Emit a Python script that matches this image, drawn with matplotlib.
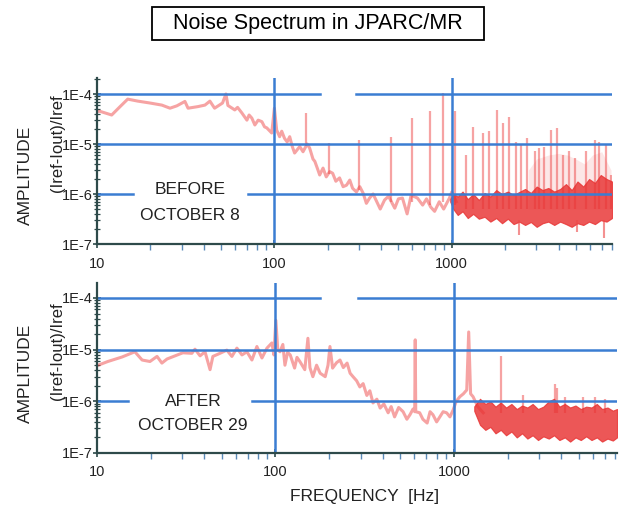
import matplotlib
matplotlib.use("Agg")
import matplotlib.pyplot as plt
from matplotlib.patches import Rectangle
from matplotlib.ticker import FixedLocator, LogLocator, NullFormatter

plt.rcParams['font.family'] = ['Liberation Sans', 'DejaVu Sans']

# ---------------- data ----------------
title = "Noise Spectrum in JPARC/MR"
y_ticks = [1e-7, 1e-6, 1e-5, 1e-4]
y_ticklabels = ["1E-7", "1E-6", "1E-5", "1E-4"]
x_ticks = [10, 100, 1000]
x_ticklabels = ["10", "100", "1000"]

# BEFORE panel: main trace
before_f = [10, 10.4, 12.1, 13.5, 14.9, 17, 19.9, 23.2, 25.8, 28.2, 31.3, 32.6, 37.1, 40.6, 43.3,
            46, 51, 53.3, 54.7, 59.8, 62, 65.5, 70, 72, 74.6, 77.6, 81, 85, 88, 90.6,
            96.6, 100, 103, 107, 110, 114, 118, 122, 126, 130, 139, 145, 153, 158, 165,
            169, 175, 180, 188, 196, 205, 213, 222, 233, 244, 255, 266, 276, 290, 303,
            316, 330, 344, 360, 377, 395, 418, 440, 477, 500, 527, 560, 590, 640, 685,
            720, 760, 800, 850, 900, 970, 1000, 1060]
before_a = [4.5e-5, 4.5e-5, 3.8e-5, 5.6e-5, 7.9e-5, 7.2e-5, 6.6e-5, 6.0e-5, 5.2e-5, 5.8e-5,
            7.1e-5, 5.2e-5, 5.6e-5, 6.0e-5, 7.2e-5, 5.2e-5, 6.6e-5, 1.0e-4, 5.9e-5, 4.8e-5,
            5.4e-5, 4.2e-5, 3.0e-5, 3.8e-5, 3.3e-5, 2.4e-5, 3.0e-5, 2.8e-5, 2.2e-5, 2.1e-5,
            1.66e-5, 5.2e-5, 1.9e-5, 1.4e-5, 1.8e-5, 1.3e-5, 1.1e-5, 1.4e-5, 9.0e-6, 6.6e-6,
            8.9e-6, 7.0e-6, 1.0e-5, 8.3e-6, 5.0e-6, 4.5e-6, 3.2e-6, 2.4e-6, 3.3e-6, 2.2e-6,
            2.8e-6, 2.6e-6, 1.8e-6, 2.1e-6, 1.4e-6, 1.5e-6, 1.9e-6, 1.3e-6, 1.1e-6, 1.4e-6,
            1.05e-6, 6.5e-7, 8.3e-7, 1.0e-6, 7.1e-7, 5.0e-7, 7.6e-7, 9.0e-7, 5.2e-7, 8.0e-7,
            8.3e-7, 4.0e-7, 9.5e-7, 8.3e-7, 6.0e-7, 8.0e-7, 5.5e-7, 4.5e-7, 7.0e-7, 5.0e-7,
            8.3e-7, 1.1e-6, 7.0e-7]
# BEFORE panel: dense noise band above 1 kHz (upper / lower edges)
before_band_f = [980, 1020, 1080, 1150, 1230, 1320, 1420, 1530, 1650, 1780, 1920, 2070, 2230,
                 2400, 2590, 2790, 3010, 3250, 3500, 3780, 4080, 4400, 4740, 5110, 5510, 5940,
                 6410, 6910, 7450, 8000]
before_band_hi = [8.0e-7, 1.0e-6, 8.9e-7, 1.12e-6, 7.9e-7, 1.0e-6, 7.6e-7, 1.05e-6, 8.9e-7,
                  1.2e-6, 1.0e-6, 1.12e-6, 9.5e-7, 1.1e-6, 1.26e-6, 1.05e-6, 1.41e-6, 1.2e-6,
                  1.32e-6, 1.12e-6, 1.26e-6, 1.58e-6, 1.2e-6, 1.78e-6, 1.41e-6, 2.0e-6,
                  1.66e-6, 2.4e-6, 2.0e-6, 1.78e-6]
before_band_lo = [7.0e-7, 5.0e-7, 3.8e-7, 4.5e-7, 3.3e-7, 4.0e-7, 3.2e-7, 3.5e-7, 2.8e-7,
                  3.3e-7, 2.6e-7, 3.2e-7, 2.5e-7, 2.8e-7, 2.4e-7, 2.75e-7, 2.2e-7, 2.6e-7,
                  2.8e-7, 2.4e-7, 2.8e-7, 2.5e-7, 2.2e-7, 2.6e-7, 2.4e-7, 2.8e-7, 2.5e-7,
                  3.0e-7, 2.8e-7, 3.3e-7]
# BEFORE panel: faint haze between high-frequency lines
before_haze_f = [2700, 3000, 3500, 4000, 4500, 5000, 5600, 6200, 7000, 7900]
before_haze_top = [3.0e-6, 5.0e-6, 6.0e-6, 6.5e-6, 6.0e-6, 5.0e-6, 4.0e-6, 6.0e-6, 7.0e-6, 3.0e-6]
# BEFORE panel: narrow lines (frequency, peak, foot)
before_spike_f = [150, 203, 298, 456, 600, 750, 890, 1040, 1200, 1320, 1490, 1630, 1790, 1940,
                  2090, 2300, 2470, 2640, 2930, 3100, 3300, 3620, 3900, 4210, 4600, 4920, 5740,
                  6380, 6800, 7440, 7900]
before_spike_top = [4.2e-5, 1.05e-5, 1.2e-5, 1.4e-5, 3.3e-5, 4.5e-5, 1.05e-4, 4.5e-5, 6.0e-6,
                    2.2e-5, 1.66e-5, 1.8e-5, 4.8e-5, 2.6e-5, 3.5e-5, 1.1e-5, 9.5e-6, 1.3e-5,
                    7.1e-6, 8.3e-6, 8.9e-6, 1.9e-5, 2.1e-5, 6.0e-6, 7.1e-6, 5.2e-6, 7.1e-6,
                    1.2e-5, 1.1e-5, 9.5e-6, 2.4e-6]
before_spike_base = [9.0e-6, 2.5e-6, 1.2e-6, 7.0e-7, 7.0e-7, 6.0e-7, 7.0e-7, 6.0e-7, 5.0e-7,
                     5.0e-7, 5.0e-7, 5.0e-7, 5.0e-7, 5.0e-7, 5.0e-7, 5.0e-7, 5.0e-7, 5.0e-7,
                     5.0e-7, 5.0e-7, 5.0e-7, 5.0e-7, 5.0e-7, 5.0e-7, 5.0e-7, 5.0e-7, 5.0e-7,
                     5.0e-7, 5.0e-7, 5.0e-7, 5.0e-7]
before_dip_f = [2400, 5080, 7200]
before_dip_bottom = [1.5e-7, 1.7e-7, 1.3e-7]
before_dip_top = [3.0e-7, 3.0e-7, 3.0e-7]

# AFTER panel: main trace
after_f = [10, 11.5, 13.8, 16.3, 17.9, 19.8, 21.7, 23.1, 24.7, 27.4, 30.3, 34, 35.4, 37.8, 40.3,
           43, 44.6, 48.9, 53.4, 57, 60.8, 64.9, 69.2, 73.8, 78.7, 84, 89.6, 95.5, 98, 100.5,
           103, 106, 110, 113, 117, 121, 128, 132, 137, 146, 152, 156, 162, 170, 178,
           190, 197, 202, 209, 220, 230, 240, 252, 262, 272, 285, 297, 310, 325, 338,
           352, 370, 386, 405, 428, 445, 465, 490, 519, 545, 567, 590, 603, 607, 611, 643,
           670, 708, 735, 763, 800, 834, 870, 910, 950, 990, 1030, 1080, 1130, 1180, 1210,
           1240, 1280, 1360, 1460]
after_a = [4.9e-6, 5.9e-6, 7.2e-6, 9.1e-6, 6.3e-6, 5.9e-6, 7.4e-6, 5.5e-6, 6.6e-6, 7.6e-6,
           8.7e-6, 8.5e-6, 1.02e-5, 7.6e-6, 9.1e-6, 4.1e-6, 7.4e-6, 8.5e-6, 9.8e-6, 7.4e-6,
           1.07e-5, 7.9e-6, 9.1e-6, 6.3e-6, 1.15e-5, 6.9e-6, 1.07e-5, 1.35e-5, 7.9e-6, 3.7e-5,
           1.0e-5, 9.1e-6, 1.26e-5, 5.0e-6, 8.9e-6, 7.9e-6, 4.4e-6, 7.1e-6, 5.9e-6, 4.1e-6,
           1.66e-5, 4.5e-6, 3.0e-6, 5.0e-6, 3.5e-6, 3.0e-6, 5.0e-6, 1.15e-5, 4.4e-6, 5.6e-6,
           6.3e-6, 4.5e-6, 5.5e-6, 3.5e-6, 3.0e-6, 2.5e-6, 1.9e-6, 2.2e-6, 1.3e-6, 1.6e-6,
           9.3e-7, 1.1e-6, 7.4e-7, 8.9e-7, 6.0e-7, 7.9e-7, 5.0e-7, 7.6e-7, 6.3e-7, 4.5e-7,
           5.5e-7, 7.1e-7, 6.3e-7, 1.55e-5, 6.3e-7, 6.0e-7, 4.5e-7, 3.8e-7, 6.3e-7, 5.5e-7,
           4.0e-7, 5.0e-7, 6.3e-7, 6.0e-7, 5.0e-7, 6.8e-7, 1.0e-6, 1.23e-6, 1.4e-6, 1.66e-6,
           2.2e-5, 1.4e-6, 1.23e-6, 7.9e-7, 6.0e-7]
after_band_f = [1300, 1400, 1500, 1600, 1710, 1830, 1960, 2100, 2250, 2410, 2580, 2760, 2960,
                3170, 3400, 3640, 3900, 4180, 4480, 4800, 5140, 5510, 5900, 6320, 6770, 7250,
                7770, 8200]
after_band_hi = [8.0e-7, 1.12e-6, 8.9e-7, 1.0e-6, 7.9e-7, 9.5e-7, 7.6e-7, 8.9e-7, 7.1e-7,
                 8.3e-7, 7.6e-7, 8.9e-7, 7.1e-7, 7.9e-7, 1.0e-6, 1.12e-6, 7.9e-7, 8.9e-7,
                 7.6e-7, 8.3e-7, 7.1e-7, 7.9e-7, 7.6e-7, 8.9e-7, 7.1e-7, 7.6e-7, 6.6e-7, 7.1e-7]
after_band_lo = [6.5e-7, 3.5e-7, 2.8e-7, 3.2e-7, 2.4e-7, 2.8e-7, 2.2e-7, 2.6e-7, 2.0e-7,
                 2.4e-7, 1.9e-7, 2.2e-7, 1.78e-7, 2.1e-7, 1.9e-7, 2.2e-7, 1.78e-7, 2.0e-7,
                 1.66e-7, 2.0e-7, 1.78e-7, 2.1e-7, 1.78e-7, 2.0e-7, 1.66e-7, 1.9e-7, 1.74e-7,
                 2.0e-7]
after_spike_f = [1840, 2440, 3680, 3760, 4190, 5270, 6150, 7000]
after_spike_top = [7.4e-6, 1.3e-6, 2.2e-6, 1.8e-6, 1.23e-6, 1.2e-6, 1.23e-6, 1.1e-6]
after_spike_base = [6.0e-7, 6.0e-7, 6.0e-7, 6.0e-7, 6.0e-7, 6.0e-7, 6.0e-7, 6.0e-7]

# ---------------- styling ----------------
W, H = 619, 512
BLUE = '#3b7dd2'
SPINE = '#2e4a4a'
LINE = '#ee4848'
BAND = '#e83232'
TXT = '#222222'


def fx(px):
    return px / W


def fy(py):
    return 1 - py / H


fig = plt.figure(figsize=(W / 100, H / 100), dpi=100)

ax_top = fig.add_axes([fx(97), fy(244), fx(612 - 97), (244 - 78) / H])
ax_bot = fig.add_axes([fx(97), fy(453), fx(617 - 97), (453 - 283) / H])


def style(ax, xmax, ymax, gap4, gap6):
    ax.set_xscale('log')
    ax.set_yscale('log')
    ax.set_xlim(10, xmax)
    ax.set_ylim(1e-7, ymax)
    ax.patch.set_alpha(0)
    for s in ['top', 'right']:
        ax.spines[s].set_visible(False)
    for s in ['left', 'bottom']:
        ax.spines[s].set_color(SPINE)
        ax.spines[s].set_linewidth(1.6)
        ax.spines[s].set_zorder(6)
    ax.yaxis.set_major_locator(FixedLocator(y_ticks))
    ax.set_yticklabels(y_ticklabels)
    ax.yaxis.set_minor_locator(LogLocator(base=10, subs=range(2, 10), numticks=20))
    ax.yaxis.set_minor_formatter(NullFormatter())
    ax.xaxis.set_major_locator(FixedLocator(x_ticks))
    ax.set_xticklabels(x_ticklabels)
    ax.xaxis.set_minor_locator(LogLocator(base=10, subs=range(2, 10), numticks=20))
    ax.xaxis.set_minor_formatter(NullFormatter())
    ax.tick_params(axis='y', which='major', direction='inout', length=6, width=1.2,
                   color=SPINE, pad=0, labelsize=10.5, labelcolor=TXT)
    ax.tick_params(axis='y', which='minor', direction='inout', length=4, width=0.9,
                   color=SPINE)
    ax.tick_params(axis='x', which='major', direction='inout', length=6, width=1.2,
                   color=SPINE, pad=6, labelsize=10.5, labelcolor=TXT)
    ax.tick_params(axis='x', which='minor', direction='out', length=4, width=1.0,
                   color='#5a8ab8')
    # blue grid with gaps left for the text
    ax.axhline(1e-4, xmin=0, xmax=gap4[0], color=BLUE, lw=1.8, zorder=5)
    ax.axhline(1e-4, xmin=gap4[1], xmax=1, color=BLUE, lw=1.8, zorder=5)
    ax.axhline(1e-5, color=BLUE, lw=1.8, zorder=5)
    ax.axhline(1e-6, xmin=0, xmax=gap6[0], color=BLUE, lw=1.8, zorder=5)
    ax.axhline(1e-6, xmin=gap6[1], xmax=1, color=BLUE, lw=1.8, zorder=5)
    ax.axvline(100, color=BLUE, lw=1.8, zorder=5)
    ax.axvline(1000, color=BLUE, lw=1.8, zorder=5)


style(ax_top, 8000, 10 ** -3.68, (0.433, 0.503), (0.070, 0.293))
style(ax_bot, 8200, 10 ** -3.71, (0.429, 0.502), (0.060, 0.298))

# ---- BEFORE ----
ax_top.fill_between(before_haze_f, 5e-7, before_haze_top, color=LINE, alpha=0.13, lw=0, zorder=1)
ax_top.vlines(before_spike_f, before_spike_base, before_spike_top, color=LINE, alpha=0.5,
              lw=1.6, zorder=2)
ax_top.plot(before_f, before_a, color=LINE, alpha=0.5, lw=2.2, zorder=3)
ax_top.fill_between(before_band_f, before_band_lo, before_band_hi, color=BAND, alpha=0.82,
                    lw=0.8, zorder=3)
ax_top.vlines(before_dip_f, before_dip_bottom, before_dip_top, color=LINE, alpha=0.6,
              lw=1.5, zorder=3)

# ---- AFTER ----
ax_bot.vlines(after_spike_f, after_spike_base, after_spike_top, color=LINE, alpha=0.5,
              lw=1.6, zorder=2)
ax_bot.plot(after_f, after_a, color=LINE, alpha=0.5, lw=2.2, zorder=3)
ax_bot.fill_between(after_band_f, after_band_lo, after_band_hi, color=BAND, alpha=0.82,
                    lw=0.8, zorder=3)

# ---- texts ----
fig.add_artist(Rectangle((fx(152), fy(40)), fx(484 - 152), (40 - 7) / H, fill=False,
                         edgecolor='black', lw=1.3, transform=fig.transFigure))
fig.text(fx(318), fy(23.5), title, ha='center', va='center', fontsize=15.5, color='black')

fig.text(fx(25), fy(175), "AMPLITUDE", rotation=90, ha='center', va='center',
         fontsize=12.5, color=TXT)
fig.text(fx(25), fy(373), "AMPLITUDE", rotation=90, ha='center', va='center',
         fontsize=12.5, color=TXT)
fig.text(fx(57), fy(143), "(Iref-Iout)/Iref", rotation=90, ha='center', va='center',
         fontsize=12, color=TXT)
fig.text(fx(57), fy(351), "(Iref-Iout)/Iref", rotation=90, ha='center', va='center',
         fontsize=12, color=TXT)

fig.text(fx(190), fy(190), "BEFORE", ha='center', va='center', fontsize=12.5, color=TXT)
fig.text(fx(190), fy(215), "OCTOBER 8", ha='center', va='center', fontsize=12.5, color=TXT)
fig.text(fx(193), fy(402), "AFTER", ha='center', va='center', fontsize=12.5, color=TXT)
fig.text(fx(193), fy(425), "OCTOBER 29", ha='center', va='center', fontsize=12.5, color=TXT)

fig.text(fx(365), fy(497), "FREQUENCY  [Hz]", ha='center', va='center', fontsize=12.5,
         color=TXT)

fig.savefig("out.png", dpi=100)
